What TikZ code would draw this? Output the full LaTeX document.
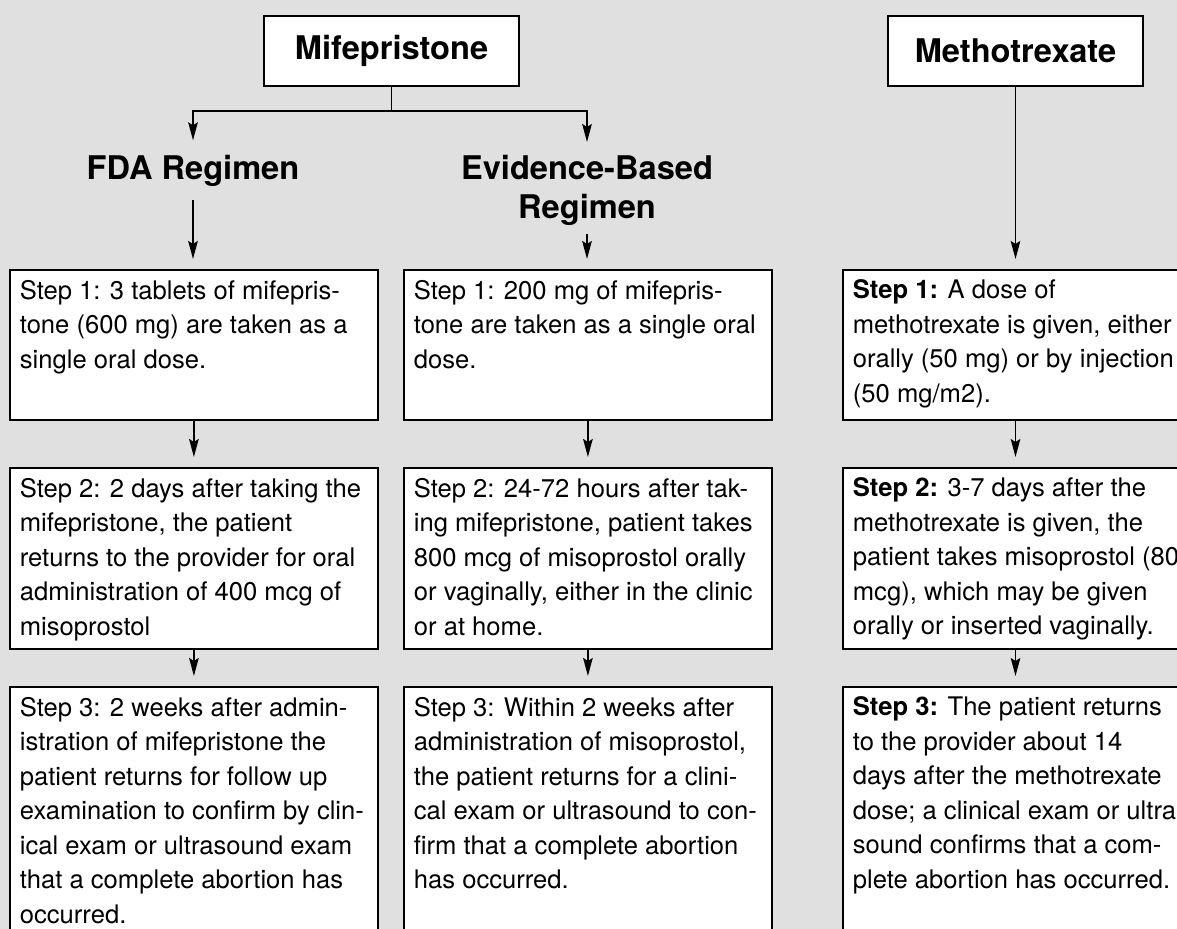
\documentclass[tikz,border=0pt]{standalone}
\usepackage{fontspec}
\setmainfont{TeX Gyre Heros}
\usetikzlibrary{arrows.meta}
\definecolor{bggray}{RGB}{224,224,224}
\newcommand{\stepbody}[3][174pt]{\parbox[t][#2][t]{#1}{\raggedright #3}}

\begin{document}
\begin{tikzpicture}[x=0.5pt,y=-0.5pt,
    drugbox/.style={draw, line width=1.2pt, fill=white, minimum width=127.5pt,
      minimum height=35pt, inner sep=0pt, font=\fontsize{16.3}{19}\selectfont\bfseries},
    regimen/.style={inner sep=0pt, align=center, font=\fontsize{16.3}{19.5}\selectfont\bfseries},
    stepbox/.style={draw, line width=0.9pt, fill=white, anchor=north west,
      inner sep=5pt, font=\fontsize{12.8}{17.25}\selectfont},
    arr/.style={line width=0.8pt, -{Stealth[length=9pt,width=4.8pt,inset=1.5pt]}}]
    \fill[bggray] (0,0) rectangle (1177,929);
    \clip (0,0) rectangle (1177,929);

    % Drugs
    \node[drugbox] (mife) at (391.5,51) {Mifepristone};
    \node[drugbox] (metho) at (1015.5,51) {Methotrexate};

    % Regimens
    \node[regimen, anchor=base] (fda) at (193,180) {FDA Regimen};
    \node[regimen, anchor=north] (ebr) at (587,155) {Evidence-Based\\Regimen};

    % FDA steps
    \node[stepbox] (f1) at (9,269) {\stepbody{65pt}{Step 1: 3 tablets of mifepris-\\
      tone (600 mg) are taken as a\\single oral dose.}};
    \node[stepbox] (f2) at (9,467) {\stepbody{80.5pt}{Step 2: 2 days after taking the\\
      mifepristone, the patient\\returns to the provider for oral\\
      administration of 400 mcg of\\misoprostol}};
    \node[stepbox] (f3) at (9,686) {\stepbody{130pt}{Step 3: 2 weeks after admin-\\
      istration of mifepristone the\\patient returns for follow up\\
      examination to confirm by clin-\\ical exam or ultrasound exam\\
      that a complete abortion has\\occurred.}};

    % Evidence-based steps
    \node[stepbox] (e1) at (403,269) {\stepbody{65pt}{Step 1: 200 mg of mifepris-\\
      tone are taken as a single oral\\dose.}};
    \node[stepbox] (e2) at (403,467) {\stepbody{80.5pt}{Step 2: 24-72 hours after tak-\\
      ing mifepristone, patient takes\\800 mcg of misoprostol orally\\
      or vaginally, either in the clinic\\or at home.}};
    \node[stepbox] (e3) at (403,686) {\stepbody{130pt}{Step 3: Within 2 weeks after\\
      administration of misoprostol,\\the patient returns for a clini-\\
      cal exam or ultrasound to con-\\firm that a complete abortion\\
      has occurred.}};

    % Methotrexate steps
    \node[stepbox] (m1) at (842,269) {\stepbody[200pt]{65pt}{\textbf{Step 1:} A dose of\\
      methotrexate is given, either\\orally (50 mg) or by injection\\(50 mg/m2).}};
    \node[stepbox] (m2) at (842,467) {\stepbody[200pt]{80.5pt}{\textbf{Step 2:} 3-7 days after the\\
      methotrexate is given, the\\patient takes misoprostol (800\\
      mcg), which may be given\\orally or inserted vaginally.}};
    \node[stepbox] (m3) at (842,686) {\stepbody[200pt]{130pt}{\textbf{Step 3:} The patient returns\\
      to the provider about 14\\days after the methotrexate\\
      dose; a clinical exam or ultra-\\sound confirms that a com-\\
      plete abortion has occurred.}};

    % Connections
    \coordinate (fork) at (391.5,111);
    \draw[line width=0.8pt] (mife.south) -- (fork);
    \draw[arr, shorten >=7.5pt] (fork) -| (fda.north);
    \draw[arr, shorten >=6.5pt] (fork) -| (ebr.north);

    \draw[arr, shorten <=6.5pt, shorten >=5pt] (fda.south) -- (fda.south |- f1.north);
    \draw[arr, shorten <=4pt, shorten >=5pt] (ebr.south) -- (ebr.south |- e1.north);
    \draw[arr, shorten >=5pt] (metho.south) -- (metho.south |- m1.north);

    \draw[arr, shorten >=5pt] (f1.south) -- (f2.north);
    \draw[arr, shorten >=5pt] (f2.south) -- (f3.north);
    \draw[arr, shorten >=5pt] (e1.south) -- (e2.north);
    \draw[arr, shorten >=5pt] (e2.south) -- (e3.north);
    \draw[arr, shorten >=5pt] (m1.south -| metho.south) -- (m2.north -| metho.south);
    \draw[arr, shorten >=5pt] (m2.south -| metho.south) -- (m3.north -| metho.south);
\end{tikzpicture}
\end{document}
